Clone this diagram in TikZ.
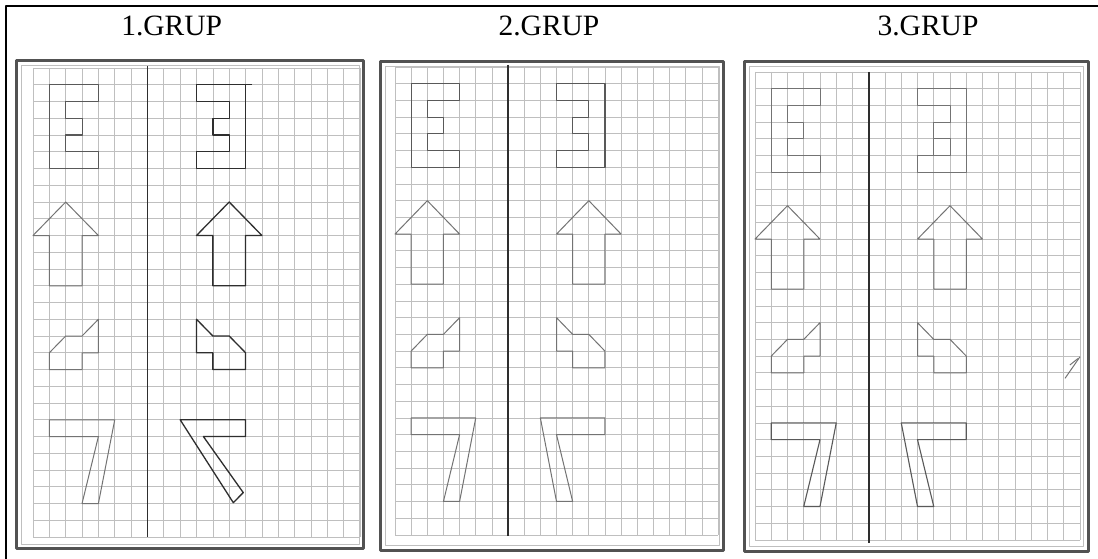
\documentclass[tikz,border=0pt]{standalone}
\usepackage{fontspec}
\setmainfont{Liberation Serif}
\newcommand\panelgrid{%
  \foreach \i in {0,...,20} {\draw[gridln] (\i,0) -- (\i,28);}
  \foreach \j in {0,...,28} {\draw[gridln] (0,\j) -- (20,\j);}
}
\begin{document}
\begin{tikzpicture}[x=1pt,y=-1pt,line join=round]
\tikzset{
  gridln/.style={draw=black!25, line width=0.7pt},
  frameln/.style={draw=black!68, line width=3pt},
  pageln/.style={draw=black!25, line width=0.6pt},
  axisln/.style={draw=black!82, line width=1.8pt},
  figdark/.style={draw=black!82, line width=1.3pt},
  figmid/.style={draw=black!65, line width=1.1pt},
  figlight/.style={draw=black!55, line width=1pt},
  title/.style={font=\fontsize{29.5}{31}\selectfont, anchor=base, inner sep=0pt},
}
\useasboundingbox (0,0) rectangle (1098,559);
\fill[white] (0,0) rectangle (1098,559);
% outer border (top and left)
\draw[line width=2pt] (1098,6) -- (6,6) -- (6,559);

% titles
\node[title] (t1) at (171.7,36) {1.GRUP};
\node[title] (t2) at (549,35.5) {2.GRUP};
\node[title] (t3) at (928,35.5) {3.GRUP};

% frames
\draw[frameln] (16.8,60.7) rectangle (363.3,548.3);
\draw[pageln] (21.5,65) rectangle (358.8,544);
\draw[frameln] (380,61.3) rectangle (723.3,550);
\draw[pageln] (385,66) rectangle (718.8,545.5);
\draw[frameln] (744.7,62) rectangle (1088.7,551.3);
\draw[pageln] (749.5,66.5) rectangle (1083.5,546);

% ---------- panel 1 ----------
\begin{scope}[shift={(33,68)}, x=16.35pt, y=-16.75pt]
  \panelgrid
  \draw[axisln] (7,-0.1) -- (7,28);
  % original figures
  \draw[figmid] (1,1) -- (4,1) -- (4,2) -- (2,2) -- (2,3) -- (3,3) -- (3,4) -- (2,4) -- (2,5) -- (4,5) -- (4,6) -- (1,6) -- cycle;
  \draw[figlight] (2,8) -- (4,10) -- (3,10) -- (3,13) -- (1,13) -- (1,10) -- (0,10) -- cycle;
  \draw[figlight] (4,15) -- (3,16) -- (2,16) -- (1,17) -- (1,18) -- (3,18) -- (3,17) -- (4,17) -- cycle;
  \draw[figlight] (1,21) -- (5,21) -- (4,26) -- (3,26) -- (4,22) -- (1,22) -- cycle;
  % mirrored figures
  \draw[figdark] (13.4,1) -- (10,1) -- (10,2) -- (12,2) -- (12,3) -- (11,3) -- (11,4) -- (12,4) -- (12,5) -- (10,5) -- (10,6) -- (13,6) -- (13,1);
  \draw[figdark] (12,8) -- (10,10) -- (11,10) -- (11,13) -- (13,13) -- (13,10) -- (14,10) -- cycle;
  \draw[figdark] (10,15) -- (11,16) -- (12,16) -- (13,17) -- (13,18) -- (11,18) -- (11,17) -- (10,17) -- cycle;
  \draw[figdark] (9,21) -- (13,21) -- (13,22) -- (10.42,22) -- (12.86,25.35) -- (12.25,25.95) -- cycle;
\end{scope}

% ---------- panel 2 ----------
\begin{scope}[shift={(395,67)}, x=16.15pt, y=-16.71pt]
  \panelgrid
  \draw[axisln] (7,-0.12) -- (7,28.05);
  \draw[figmid] (1,1) -- (4,1) -- (4,2) -- (2,2) -- (2,3) -- (3,3) -- (3,4) -- (2,4) -- (2,5) -- (4,5) -- (4,6) -- (1,6) -- cycle;
  \draw[figlight] (2,8) -- (4,10) -- (3,10) -- (3,13) -- (1,13) -- (1,10) -- (0,10) -- cycle;
  \draw[figlight] (4,15) -- (3,16) -- (2,16) -- (1,17) -- (1,18) -- (3,18) -- (3,17) -- (4,17) -- cycle;
  \draw[figlight] (1,21) -- (5,21) -- (4,26) -- (3,26) -- (4,22) -- (1,22) -- cycle;
  \draw[figmid] (13,1) -- (10,1) -- (10,2) -- (12,2) -- (12,3) -- (11,3) -- (11,4) -- (12,4) -- (12,5) -- (10,5) -- (10,6) -- (13,6) -- cycle;
  \draw[figlight] (12,8) -- (10,10) -- (11,10) -- (11,13) -- (13,13) -- (13,10) -- (14,10) -- cycle;
  \draw[figlight] (10,15) -- (11,16) -- (12,16) -- (13,17) -- (13,18) -- (11,18) -- (11,17) -- (10,17) -- cycle;
  \draw[figlight] (13,21) -- (9,21) -- (10,26) -- (11,26) -- (10,22) -- (13,22) -- cycle;
\end{scope}

% ---------- panel 3 ----------
\begin{scope}[shift={(755,72)}, x=16.25pt, y=-16.71pt]
  \panelgrid
  \draw[axisln] (7,0) -- (7,28.2);
  \draw[figlight] (1,1) -- (4,1) -- (4,2) -- (2,2) -- (2,3) -- (3,3) -- (3,4) -- (2,4) -- (2,5) -- (4,5) -- (4,6) -- (1,6) -- cycle;
  \draw[figlight] (2,8) -- (4,10) -- (3,10) -- (3,13) -- (1,13) -- (1,10) -- (0,10) -- cycle;
  \draw[figlight] (4,15) -- (3,16) -- (2,16) -- (1,17) -- (1,18) -- (3,18) -- (3,17) -- (4,17) -- cycle;
  \draw[figmid] (1,21) -- (5,21) -- (4,26) -- (3,26) -- (4,22) -- (1,22) -- cycle;
  \draw[figlight] (13,1) -- (10,1) -- (10,2) -- (12,2) -- (12,3) -- (11,3) -- (11,4) -- (12,4) -- (12,5) -- (10,5) -- (10,6) -- (13,6) -- cycle;
  \draw[figlight] (11,4) -- (11,5);
  \draw[figlight] (12,8) -- (10,10) -- (11,10) -- (11,13) -- (13,13) -- (13,10) -- (14,10) -- cycle;
  \draw[figlight] (10,15) -- (11,16) -- (12,16) -- (13,17) -- (13,18) -- (11,18) -- (11,17) -- (10,17) -- cycle;
  \draw[figmid] (13,21) -- (9,21) -- (10,26) -- (11,26) -- (10,22) -- (13,22) -- cycle;
  % stray pencil marks
  \draw[figlight] (19.08,18.33) -- (20,17.04);
  \draw[figlight] (19.38,17.53) -- (19.9,17.13);
\end{scope}
\end{tikzpicture}
\end{document}
